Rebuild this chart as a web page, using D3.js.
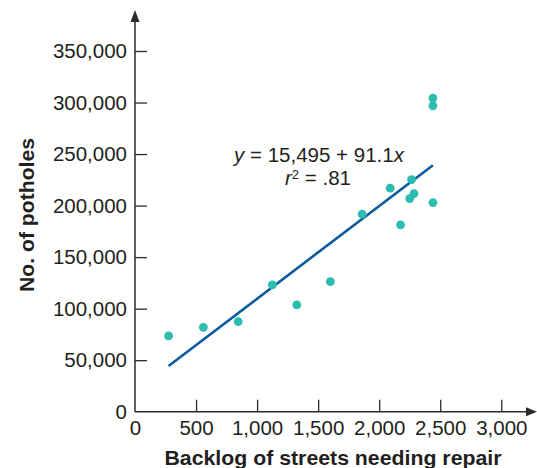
<!DOCTYPE html>
<html>
<head>
<meta charset="utf-8">
<script src="https://cdn.jsdelivr.net/npm/d3@7"></script>
<style>
  html, body { margin: 0; padding: 0; background: #fff; }
  svg { display: block; font-family: "Liberation Sans", Arial, Helvetica, sans-serif; }
</style>
</head>
<body>
<svg id="chart" width="537" height="468"></svg>
<script>
// ---- data ----
const backlog  = [275, 560, 845, 1125, 1325, 1600, 1860, 2090, 2175, 2250, 2265, 2285, 2440, 2440, 2440];
const potholes = [73500, 81900, 87400, 123000, 103600, 126200, 191700, 216900, 181300, 206800, 225200, 211700, 202900, 296800, 304300];
const fitLineX = [275, 2440];
const fitLineY = [44400, 239200];
const xTicks = [0, 500, 1000, 1500, 2000, 2500, 3000];
const yTicks = [0, 50000, 100000, 150000, 200000, 250000, 300000, 350000];
const xTitle = "Backlog of streets needing repair";
const yTitle = "No. of potholes";

// ---- layout ----
const svg = d3.select("#chart");
const x0 = 135, x1 = 501.3;   // 0 .. 3000
const y0 = 411.7, y1 = 51;    // 0 .. 350000
const x = d3.scaleLinear().domain([0, 3000]).range([x0, x1]);
const y = d3.scaleLinear().domain([0, 350000]).range([y0, y1]);
const axisColor = "#2b2b2b";
const textColor = "#231f20";
const fmt = d3.format(",");
const fs = 20.5;

// x axis
const gx = svg.append("g").attr("transform", `translate(0,${y0})`)
  .call(d3.axisBottom(x).tickValues(xTicks).tickFormat(fmt).tickSizeInner(-12).tickSizeOuter(0).tickPadding(9));
gx.select(".domain").remove();
gx.selectAll(".tick line").attr("stroke", axisColor).attr("stroke-width", 1.3);
gx.selectAll(".tick").filter(d => d === 0).select("line").remove();
gx.selectAll(".tick text").attr("font-size", fs).attr("fill", textColor).attr("font-family", "inherit");

// y axis
const gy = svg.append("g").attr("transform", `translate(${x0},0)`)
  .call(d3.axisLeft(y).tickValues(yTicks).tickFormat(fmt).tickSizeInner(-12).tickSizeOuter(0).tickPadding(8));
gy.select(".domain").remove();
gy.selectAll(".tick line").attr("stroke", axisColor).attr("stroke-width", 1.3);
gy.selectAll(".tick").filter(d => d === 0).select("line").remove();
gy.selectAll(".tick text").attr("font-size", fs).attr("fill", textColor).attr("font-family", "inherit");

// axis lines with arrows
svg.append("line").attr("x1", x0).attr("x2", 528).attr("y1", y0).attr("y2", y0)
  .attr("stroke", axisColor).attr("stroke-width", 1.5);
svg.append("path").attr("d", `M537,${y0} L526,${y0 - 4.5} L526,${y0 + 4.5} Z`).attr("fill", axisColor);
svg.append("line").attr("x1", x0).attr("x2", x0).attr("y1", y0).attr("y2", 20)
  .attr("stroke", axisColor).attr("stroke-width", 1.5);
svg.append("path").attr("d", `M${x0},10 L${x0 - 4.5},22 L${x0 + 4.5},22 Z`).attr("fill", axisColor);

// regression line
svg.append("line")
  .attr("x1", x(fitLineX[0])).attr("y1", y(fitLineY[0]))
  .attr("x2", x(fitLineX[1])).attr("y2", y(fitLineY[1]))
  .attr("stroke", "#0b5a9c").attr("stroke-width", 2.6);

// points
svg.append("g").selectAll("circle")
  .data(backlog.map((b, i) => [b, potholes[i]]))
  .join("circle")
  .attr("cx", d => x(d[0])).attr("cy", d => y(d[1])).attr("r", 4.4)
  .attr("fill", "#2dbdb0");

// equation
const eq = svg.append("text").attr("x", 319).attr("y", 162).attr("text-anchor", "middle")
  .attr("font-size", fs).attr("fill", textColor);
eq.append("tspan").attr("font-style", "italic").text("y");
eq.append("tspan").text(" = 15,495 + 91.1");
eq.append("tspan").attr("font-style", "italic").text("x");
const r2 = svg.append("text").attr("x", 318).attr("y", 185).attr("text-anchor", "middle")
  .attr("font-size", fs).attr("fill", textColor);
r2.append("tspan").attr("font-style", "italic").text("r");
r2.append("tspan").attr("font-size", 13).attr("dy", -6.5).text("2");
r2.append("tspan").attr("dy", 6.5).text(" = .81");

// titles
svg.append("text").attr("x", 333).attr("y", 465).attr("text-anchor", "middle")
  .attr("font-size", fs).attr("font-weight", "bold").attr("fill", textColor)
  .attr("textLength", 337).attr("lengthAdjust", "spacingAndGlyphs").text(xTitle);
svg.append("text").attr("transform", "translate(34,215) rotate(-90)").attr("text-anchor", "middle")
  .attr("font-size", fs).attr("font-weight", "bold").attr("fill", textColor)
  .attr("textLength", 154).attr("lengthAdjust", "spacingAndGlyphs").text(yTitle);
</script>
</body>
</html>
